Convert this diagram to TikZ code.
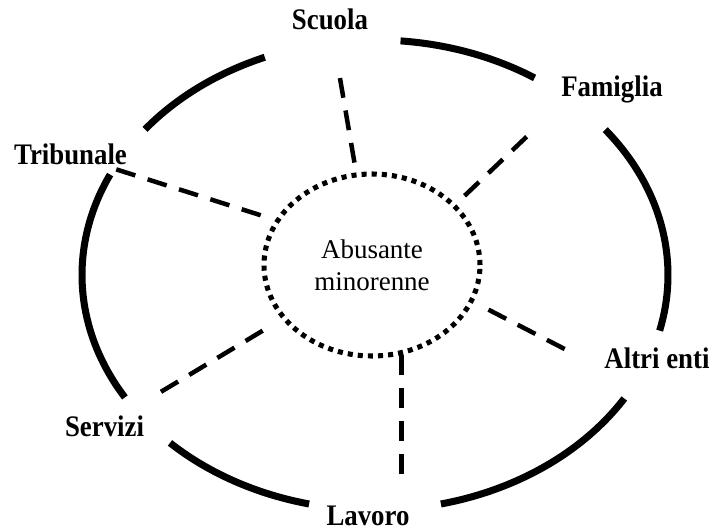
\documentclass[tikz,border=0pt]{standalone}
\usepackage{fontspec}
\setmainfont{Liberation Serif}
\newfontfamily\lblfont{Liberation Serif}[FakeStretch=0.9]
\usepackage{tikz}
\usetikzlibrary{shapes.geometric, calc}
\tikzset{
  hub/.style={ellipse, draw=black, line width=3.6pt,
    dash pattern=on 3.6pt off 3.6pt, minimum width=5.4cm,
    minimum height=4.55cm, align=center,
    font=\fontsize{19.2}{22.8}\selectfont},
  lbl/.style={anchor=base, inner sep=2pt,
    font=\lblfont\fontsize{21.2}{25}\selectfont\bfseries},
  ringarc/.style={line width=5pt, color=black},
  link/.style={line width=3.2pt, dash pattern=on 14.2pt off 9.2pt, color=black}
}

\begin{document}
\begin{tikzpicture}
  \useasboundingbox (-9.375,-6.4) rectangle (8.425,6.875);

  % outer ring, broken at the labels
  \foreach \a/\b in {57/85, -13.7/38.2, -77/-31.7, -134.4/-103, 154.7/211.4, 112.1/141.7}
    \draw[ringarc] (\a:7.325 and 5.875) arc[start angle=\a, end angle=\b, x radius=7.325, y radius=5.875];

  \node[hub] (abus) at (-0.075,0.25) {Abusante\\minorenne};

  \node[lbl] (scuola) at (-1.125,6.125) {Scuola};
  \node[lbl] (famiglia) at (5.925,4.45) {Famiglia};
  \node[lbl] (tribunale) at (-7.6125,2.75) {Tribunale};
  \node[lbl] (altri) at (7.05,-2.325) {Altri enti};
  \node[lbl] (servizi) at (-6.7625,-4.025) {Servizi};
  \node[lbl] (lavoro) at (-0.175,-6.25) {Lavoro};

  % dashed links
  \draw[link, shorten <=0.25cm, shorten >=1cm] (abus) -- (scuola);
  \draw[link, shorten <=0.3cm, shorten >=0.85cm] (abus.36) -- (famiglia.south west);
  \draw[link, shorten <=0.38cm] (abus.155) -- (tribunale);
  \draw[link, shorten <=0.42cm, shorten >=0.84cm] (abus.-20) -- (altri.base west);
  \draw[link, shorten <=0.56cm, shorten >=0.86cm] (abus) -- (servizi);
  \draw[link, shorten >=0.58cm] (abus.-72) -- (abus.-72 |- lavoro.north);
\end{tikzpicture}
\end{document}
